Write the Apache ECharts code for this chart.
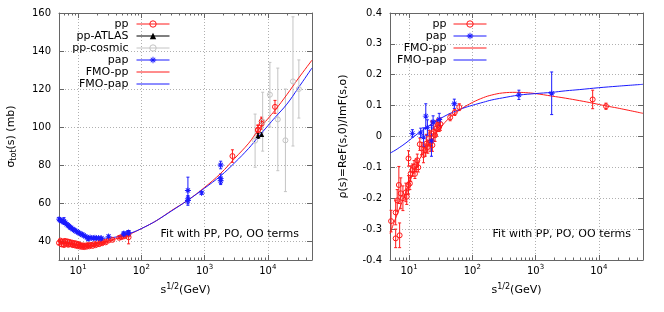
<!DOCTYPE html>
<html><head><meta charset="utf-8">
<script src="https://cdn.jsdelivr.net/npm/echarts@6/dist/echarts.min.js"></script>
<style>html,body{margin:0;padding:0;background:#fff}#c{width:664px;height:312px}</style>
</head><body><div id="c"></div>
<script>
// ---------- data (left panel: total cross section, mb) ----------
const ppSigE   = [5.0,5.3,5.5,5.8,6.0,6.2,6.5,6.8,7.0,7.3,7.6,8.0,8.3,8.7,9.0,9.4,9.8,10.2,10.6,11.0,11.5,12.0,12.5,13.0,13.7,14.3,15.0,16.0,17.0,18.0,19.0,20.0,21.5,23.0,24.0,25.5,27.4,30.6,35.0,44.7,48.0,52.8,55.0,62.5,63.0,2760,7000,7000,8000,8000,13000];
const ppSig    = [39.0,40.2,38.2,39.6,37.9,40.0,38.6,39.8,38.0,39.5,38.3,39.2,37.8,38.9,37.6,38.7,37.3,38.4,37.1,37.8,36.9,37.7,36.8,37.6,37.0,37.9,37.2,38.0,37.4,38.3,37.8,38.8,38.3,39.2,38.8,39.6,39.3,40.3,40.6,41.7,42.0,42.4,42.8,43.4,42.0,84.7,98.3,98.6,101.7,102.9,110.6];
const ppSigErr = [0.9,0.8,1.0,0.8,0.9,1.1,0.8,0.9,0.8,1.0,0.8,0.9,0.8,1.0,0.7,0.8,0.7,0.8,0.7,0.9,0.6,0.8,0.6,0.7,0.6,0.8,0.5,0.6,0.5,0.6,0.5,0.4,0.5,0.4,0.5,0.4,0.4,0.4,0.5,0.4,0.5,0.4,0.6,0.5,3.5,3.3,2.8,2.2,2.9,2.3,3.4];

const atlasE      = [7000, 8000];
const atlasSig    = [95.35, 96.07];
const atlasSigErr = [1.36, 0.92];

const cosmicE      = [6300, 8300, 10800, 14400, 19000, 25000, 31000];
const cosmicSig    = [92.8, 102.8, 117.0, 104.0, 93.0, 124.0, 120.0];
const cosmicSigErr = [14, 15.5, 17, 27, 27, 34, 15.3];

const papSigE   = [5.0,5.2,5.4,5.6,5.9,6.0,6.3,6.6,6.9,7.2,7.5,7.8,8.2,8.6,9.0,9.5,10.0,10.5,11.1,11.7,12.3,13.0,13.8,14.5,15.5,16.5,17.5,18.5,19.5,21.0,22.5,23.5,30.4,52.6,53.0,62.3,62.7,546,546,546,900,1800,1800,1800];
const papSig    = [51.5,51.0,50.6,50.8,50.0,50.5,49.6,48.8,48.3,47.8,47.2,46.9,46.3,45.9,45.4,45.0,44.6,44.1,43.7,43.3,43.0,42.4,42.0,41.2,41.8,41.6,41.4,41.7,41.5,41.6,41.3,41.5,42.4,43.5,44.0,44.1,44.5,66.6,62.2,61.3,65.3,80.0,72.8,71.7];
const papSigErr = [0.8,0.6,0.7,0.6,0.6,1.8,0.6,0.5,0.6,0.5,0.6,0.5,0.5,0.5,0.4,0.5,0.4,0.4,0.4,0.4,0.3,0.4,0.3,1.0,0.3,0.3,0.3,0.4,0.3,0.3,0.3,0.3,0.7,0.8,0.8,1.0,1.0,7.0,1.5,2.5,0.7,2.0,2.5,2.0];

const fmoPpSigE  = [5,7,10,15,20,30,50,70,100,150,200,300,546,1000,1800,3000,5000,7000,10000,13000,20000,30000,50000];
const fmoPpSig   = [38.8,38.4,38.2,38.3,38.8,40.0,42.3,44.0,46.5,49.5,52.0,56.0,61.5,68.2,75.6,83.5,91.5,98.2,104.3,108.8,117.0,125.3,135.2];
const fmoPapSigE = [5,6,7,8,10,13,16,20,25,30,40,50,70,100,150,200,300,546,1000,1800,3000,5000,7000,10000,13000,20000,30000,50000];
const fmoPapSig  = [50.5,48.8,47.3,46.1,44.4,42.9,42.1,41.6,41.5,41.6,42.1,42.8,44.3,46.5,49.5,52.0,55.8,61.5,67.8,74.3,81.2,88.8,94.6,100.6,105.0,112.0,120.3,131.1];

// ---------- data (right panel: rho) ----------
const ppRhoE   = [5.2,6.15,7.1,6.15,6.5,6.9,7.4,8.0,8.9,9.2,9.8,9.8,10.3,10.6,11.3,12.0,12.4,13.0,13.5,14.0,14.8,15.9,16.9,18.0,18.8,19.8,20.8,21.6,22.6,23.4,24.6,25.8,27.0,28.4,30.0,31.4,44.7,52.8,62.3,8000,13000];
const ppRho    = [-0.274,-0.33,-0.32,-0.246,-0.207,-0.157,-0.184,-0.20,-0.181,-0.195,-0.071,-0.157,-0.152,-0.12,-0.109,-0.098,-0.121,-0.093,-0.077,-0.10,-0.025,-0.039,-0.06,-0.044,-0.023,-0.034,-0.006,-0.018,0.01,-0.028,0.015,0.004,0.026,0.037,0.031,0.04,0.062,0.078,0.095,0.12,0.098];
const ppRhoErr = [0.035,0.03,0.04,0.04,0.035,0.06,0.05,0.04,0.03,0.025,0.025,0.03,0.02,0.025,0.02,0.02,0.015,0.02,0.02,0.015,0.02,0.02,0.025,0.02,0.03,0.02,0.025,0.03,0.04,0.02,0.03,0.02,0.025,0.02,0.015,0.02,0.011,0.01,0.011,0.03,0.01];

const papRhoE   = [11.3,15.3,17.0,18.4,19.5,22.6,24.0,30.0,52.0,546,1800];
const papRho    = [0.01,0.012,-0.002,0.066,0.029,-0.014,0.047,0.055,0.106,0.135,0.14];
const papRhoErr = [0.012,0.015,0.03,0.04,0.025,0.05,0.02,0.02,0.015,0.015,0.069];

const fmoPpRhoE  = [5,6,7,8,10,12,15,20,25,30,40,50,70,100,150,200,300,500,700,1000,1800,3000,5000,8000,13000,20000,50000];
const fmoPpRho   = [-0.315,-0.27,-0.235,-0.205,-0.152,-0.112,-0.07,-0.03,0.0,0.024,0.053,0.071,0.092,0.11,0.126,0.134,0.141,0.143,0.142,0.139,0.131,0.124,0.116,0.108,0.099,0.092,0.075];
const fmoPapRhoE = [5,6,7,8,10,12,15,20,25,30,40,50,70,100,150,200,300,546,1000,1800,3000,5000,10000,20000,50000];
const fmoPapRho  = [-0.054,-0.045,-0.036,-0.028,-0.013,0.0,0.015,0.033,0.046,0.056,0.07,0.079,0.091,0.101,0.111,0.118,0.125,0.134,0.139,0.143,0.148,0.152,0.158,0.163,0.169];

// ---------- axis ranges / ticks ----------
const xRange = [5, 50000];
const xDecades = [1, 2, 3, 4];           // 10^1 .. 10^4
const sigTicks = [40, 60, 80, 100, 120, 140, 160];
const sigRange = [30, 160];
const rhoTicks = [-0.4,-0.3,-0.2,-0.1,0,0.1,0.2,0.3,0.4];
const rhoRange = [-0.4, 0.4];

// ---------- styling ----------
const FONT = 'DejaVu Sans';
const RED = '#ff1a1a', BLUE = '#1a1aff', GRAY = '#c4c4c4', BLACK = '#000000';
const FRAME = '#666666', GRID = '#b0b0b0';
const STAR = 'path://M0 4.3L10 4.3L10 5.7L0 5.7ZM4.3 0L5.7 0L5.7 10L4.3 10ZM1 2L2 1L9 8L8 9ZM8 1L9 2L2 9L1 8Z';

const L = v => Math.log10(v);
const xMin = L(xRange[0]), xMax = L(xRange[1]);
const minorX = [];
for (let d = 0; d <= 4; d++) for (let k = 2; k <= 9; k++) {
  const v = L(k * Math.pow(10, d));
  if (v >= xMin - 1e-12 && v <= xMax + 1e-12) minorX.push(Math.min(Math.max(v, xMin), xMax));
}

const pts = (xs, ys) => xs.map((x, i) => [L(x), ys[i]]);
const errPts = (xs, ys, es) => xs.map((x, i) => [L(x), ys[i] - es[i], ys[i] + es[i]]);

function errSeries(name, xs, ys, es, color, xi, yi) {
  return {
    type: 'custom', name: name, xAxisIndex: xi, yAxisIndex: yi, silent: true,
    data: errPts(xs, ys, es), encode: { x: 0, y: [1, 2] },
    renderItem: function (p, api) {
      const x = api.value(0);
      const a = api.coord([x, api.value(1)]);
      const b = api.coord([x, api.value(2)]);
      const s = { stroke: color, lineWidth: 1 };
      return { type: 'group', children: [
        { type: 'line', shape: { x1: a[0], y1: a[1], x2: b[0], y2: b[1] }, style: s },
        { type: 'line', shape: { x1: a[0] - 1.5, y1: a[1], x2: a[0] + 1.5, y2: a[1] }, style: s },
        { type: 'line', shape: { x1: b[0] - 1.5, y1: b[1], x2: b[0] + 1.5, y2: b[1] }, style: s }
      ]};
    }
  };
}
function markSeries(name, xs, ys, symbol, size, color, fill, xi, yi) {
  return {
    type: 'line', name: name, xAxisIndex: xi, yAxisIndex: yi, data: pts(xs, ys),
    symbol: symbol, symbolSize: size, showSymbol: true, showAllSymbol: true,
    lineStyle: { width: 0, color: color },
    itemStyle: { color: fill, borderColor: color, borderWidth: fill === color ? 0 : 1 },
    emphasis: { disabled: true }, silent: true
  };
}
function curveSeries(name, xs, ys, color, xi, yi) {
  return {
    type: 'line', name: name, xAxisIndex: xi, yAxisIndex: yi, data: pts(xs, ys),
    symbol: 'none', smooth: 0.4, lineStyle: { width: 1, color: color },
    itemStyle: { color: color }, emphasis: { disabled: true }, silent: true
  };
}

const supRich = {
  sup: { fontSize: 7, fontFamily: FONT, color: '#000', verticalAlign: 'top', lineHeight: 8 }
};

function xAxes(gi) {
  const base = { type: 'value', gridIndex: gi, min: xMin, max: xMax,
    splitLine: { show: false }, axisLabel: { show: false }, axisLine: { show: false, onZero: false }, axisTick: { show: false } };
  const tickStyle = { color: FRAME, width: 1 };
  const lineOn = { show: true, onZero: false, lineStyle: { color: FRAME, width: 1 } };
  return [
    Object.assign({}, base, {
      position: 'bottom',
      axisLine: lineOn,
      axisTick: { show: true, inside: true, length: 5, customValues: xDecades, lineStyle: tickStyle },
      axisLabel: { show: true, customValues: xDecades, margin: 4, color: '#000', fontSize: 10, fontFamily: FONT, lineHeight: 14,
        formatter: v => '10{sup|' + Math.round(v) + '}', rich: supRich },
      splitLine: { show: true, lineStyle: { color: GRID, width: 1, type: [1, 2] } },
      name: 's{sup|1/2}(GeV)', nameLocation: 'middle', nameGap: 21,
      nameTextStyle: { color: '#000', fontSize: 11, fontFamily: FONT, lineHeight: 14,
        rich: { sup: { fontSize: 8, fontFamily: FONT, color: '#000', verticalAlign: 'top', lineHeight: 9 } } }
    }),
    Object.assign({}, base, { position: 'bottom',
      axisTick: { show: true, inside: true, length: 2.5, customValues: minorX, lineStyle: tickStyle } }),
    Object.assign({}, base, { position: 'top',
      axisLine: lineOn,
      axisTick: { show: true, inside: true, length: 5, customValues: xDecades, lineStyle: tickStyle } }),
    Object.assign({}, base, { position: 'top',
      axisTick: { show: true, inside: true, length: 2.5, customValues: minorX, lineStyle: tickStyle } })
  ];
}

function yAxes(gi, range, ticks, name, nameGap, fmt, nameRich) {
  const tickStyle = { color: FRAME, width: 1 };
  const lineOn = { show: true, onZero: false, lineStyle: { color: FRAME, width: 1 } };
  return [
    { type: 'value', gridIndex: gi, position: 'left', min: range[0], max: range[1],
      axisLine: lineOn,
      axisTick: { show: true, inside: true, length: 5, customValues: ticks, lineStyle: tickStyle },
      axisLabel: { show: true, customValues: ticks, margin: 8, color: '#000', fontSize: 10, fontFamily: FONT, formatter: fmt },
      splitLine: { show: true, lineStyle: { color: GRID, width: 1, type: [1, 2] } },
      name: name, nameLocation: 'middle', nameGap: nameGap, nameRotate: 90,
      nameTextStyle: { color: '#000', fontSize: 11, fontFamily: FONT, lineHeight: 14, rich: nameRich || {} } },
    { type: 'value', gridIndex: gi, position: 'right', min: range[0], max: range[1],
      axisLine: lineOn,
      axisTick: { show: true, inside: true, length: 5, customValues: ticks, lineStyle: tickStyle },
      axisLabel: { show: false }, splitLine: { show: false } }
  ];
}

function legendItem(name, color, kind) {
  if (kind === 'line') return { name: name, lineStyle: { color: color, width: 1 }, itemStyle: { opacity: 0 } };
  if (kind === 'open') return { name: name, lineStyle: { color: color, width: 1 },
    itemStyle: { color: 'rgba(0,0,0,0)', borderColor: color, borderWidth: 1 } };
  return { name: name, lineStyle: { color: color, width: 1 }, itemStyle: { color: color, borderWidth: 0 } };
}
const legendBase = { orient: 'vertical', align: 'right', padding: 0, itemGap: 0, itemWidth: 33, itemHeight: 8,
  selectedMode: false, top: 18 };

const option = {
  animation: false,
  backgroundColor: '#fff',
  textStyle: { fontFamily: FONT },
  grid: [
    { left: 59, top: 13, width: 253, height: 247 },
    { left: 390, top: 13, width: 253, height: 247 }
  ],
  xAxis: xAxes(0).concat(xAxes(1)),
  yAxis: yAxes(0, sigRange, sigTicks, '\u03c3{sub|tot}(s) (mb)', 41, v => String(v),
            { sub: { fontSize: 8, fontFamily: FONT, color: '#000', verticalAlign: 'bottom', lineHeight: 9 } })
    .concat(yAxes(1, rhoRange, rhoTicks, '\u03c1(s)=ReF(s,0)/ImF(s,o)', 40,
            v => (Math.abs(v) < 1e-9 ? '0' : v.toFixed(1)))),
  legend: [
    Object.assign({}, legendBase, { right: 494,
      textStyle: { fontSize: 11, fontFamily: FONT, color: '#000', lineHeight: 12, padding: [0, 3, 0, 0] },
      data: [ legendItem('pp', RED, 'open'), legendItem('pp-ATLAS', BLACK, 'fill'), legendItem('pp-cosmic', GRAY, 'open'),
              legendItem('pap', BLUE, 'fill'), legendItem('FMO-pp', RED, 'line'), legendItem('FMO-pap', BLUE, 'line') ] }),
    Object.assign({}, legendBase, { right: 177,
      textStyle: { fontSize: 11, fontFamily: FONT, color: '#000', lineHeight: 12, padding: [0, 2, 0, 0] },
      data: [ legendItem('pp', RED, 'open'), legendItem('pap', BLUE, 'fill'),
              legendItem('FMO-pp', RED, 'line'), legendItem('FMO-pap', BLUE, 'line') ] })
  ],
  graphic: [
    { type: 'text', x: 299, y: 234, silent: true,
      style: { text: 'Fit with PP, PO, OO terms', align: 'right', verticalAlign: 'middle', fontSize: 11, fontFamily: FONT, fill: '#000' } },
    { type: 'text', x: 631, y: 234, silent: true,
      style: { text: 'Fit with PP, PO, OO terms', align: 'right', verticalAlign: 'middle', fontSize: 11, fontFamily: FONT, fill: '#000' } }
  ],
  series: [
    // left panel
    errSeries('pp-err', ppSigE, ppSig, ppSigErr, RED, 0, 0),
    markSeries('pp', ppSigE, ppSig, 'circle', 5, RED, 'rgba(0,0,0,0)', 0, 0),
    errSeries('atlas-err', atlasE, atlasSig, atlasSigErr, BLACK, 0, 0),
    markSeries('pp-ATLAS', atlasE, atlasSig, 'triangle', 5, BLACK, BLACK, 0, 0),
    errSeries('cosmic-err', cosmicE, cosmicSig, cosmicSigErr, GRAY, 0, 0),
    markSeries('pp-cosmic', cosmicE, cosmicSig, 'circle', 5, GRAY, 'rgba(0,0,0,0)', 0, 0),
    errSeries('pap-err', papSigE, papSig, papSigErr, BLUE, 0, 0),
    markSeries('pap', papSigE, papSig, STAR, 6, BLUE, BLUE, 0, 0),
    curveSeries('FMO-pp', fmoPpSigE, fmoPpSig, RED, 0, 0),
    curveSeries('FMO-pap', fmoPapSigE, fmoPapSig, BLUE, 0, 0),
    // right panel
    errSeries('pp-rho-err', ppRhoE, ppRho, ppRhoErr, RED, 4, 2),
    markSeries('pp', ppRhoE, ppRho, 'circle', 5, RED, 'rgba(0,0,0,0)', 4, 2),
    errSeries('pap-rho-err', papRhoE, papRho, papRhoErr, BLUE, 4, 2),
    markSeries('pap', papRhoE, papRho, STAR, 6, BLUE, BLUE, 4, 2),
    curveSeries('FMO-pp', fmoPpRhoE, fmoPpRho, RED, 4, 2),
    curveSeries('FMO-pap', fmoPapRhoE, fmoPapRho, BLUE, 4, 2)
  ]
};
const chart = echarts.init(document.getElementById('c'), null, { renderer: 'canvas' });
chart.setOption(option);
</script></body></html>
